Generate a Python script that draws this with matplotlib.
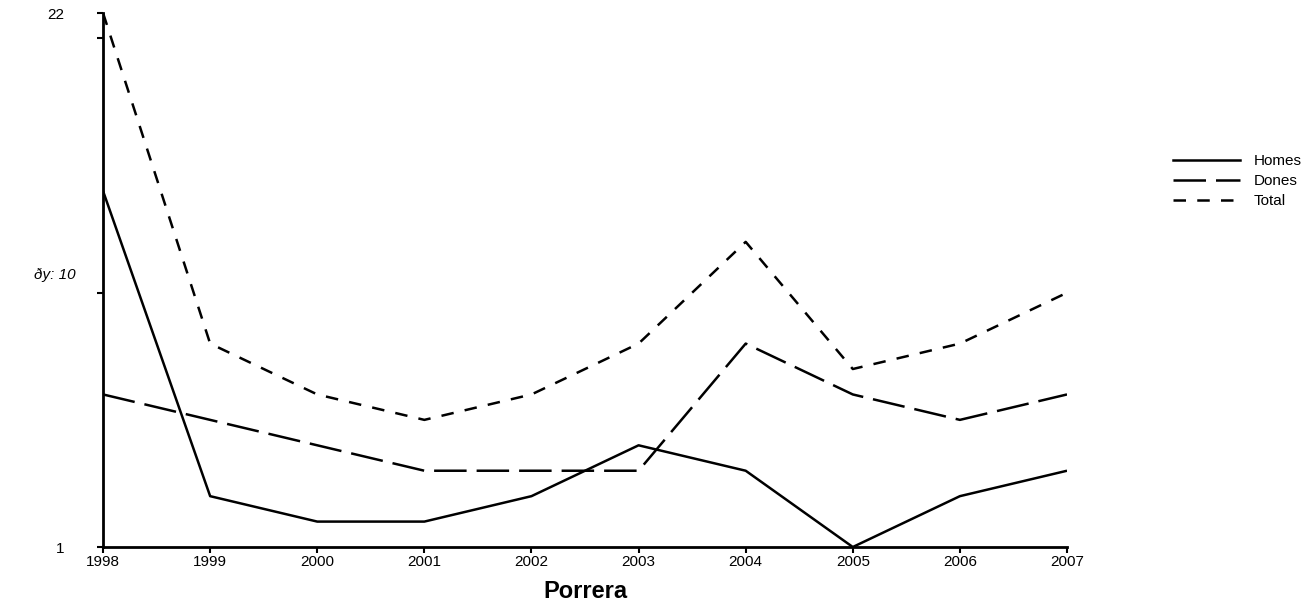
from matplotlib import pyplot as plt
from matplotlib.lines import Line2D

anys = [1998, 1999, 2000, 2001, 2002, 2003, 2004, 2005, 2006, 2007]
homes = [15, 3, 2, 2, 3, 5, 4, 1, 3, 4]
dones = [7, 6, 5, 4, 4, 4, 9, 7, 6, 7]
total = [22, 9, 7, 6, 7, 9, 13, 8, 9, 11]

plt.rcParams['font.family'] = ['Liberation Sans', 'DejaVu Sans']

fig = plt.figure(figsize=(13.16, 6.08), dpi=100)
ax = fig.add_axes([0.0783, 0.1003, 0.7325, 0.8783])

ax.plot(anys, homes, color='black', lw=1.8, solid_capstyle='butt')
ax.plot(anys, dones, color='black', lw=1.8, dashes=(13, 4))
ax.plot(anys, total, color='black', lw=1.8, dashes=(5, 4.5))

ax.set_xlim(1998, 2007)
ax.set_ylim(1, 22)
ax.set_xticks(anys)
ax.set_xticklabels([str(a) for a in anys], fontsize=11)
ax.set_yticks([1, 11, 21, 22])
ax.set_yticklabels(['1', '', '', '22'], fontsize=11)
ax.tick_params(axis='y', direction='out', length=4, width=1.5, pad=24)
ax.tick_params(axis='x', direction='out', length=4, width=1.5, pad=2)

for side in ['top', 'right']:
    ax.spines[side].set_visible(False)
for side in ['left', 'bottom']:
    ax.spines[side].set_linewidth(2)

ax.text(-0.072, 0.51, 'ðy: 10', transform=ax.transAxes, fontsize=11,
        style='italic', ha='left', va='center')
ax.set_xlabel('Porrera', fontsize=17, fontweight='bold', labelpad=8)

handles = [Line2D([], [], color='black', lw=1.8),
           Line2D([], [], color='black', lw=1.8, dashes=(13, 4)),
           Line2D([], [], color='black', lw=1.8, dashes=(5, 4.5))]
fig.legend(handles, ['Homes', 'Dones', 'Total'], loc='upper left',
           bbox_to_anchor=(0.881, 0.769), frameon=False, fontsize=11,
           handlelength=4.4, handletextpad=0.9, labelspacing=0.4)

fig.savefig('out.png', dpi=100)
